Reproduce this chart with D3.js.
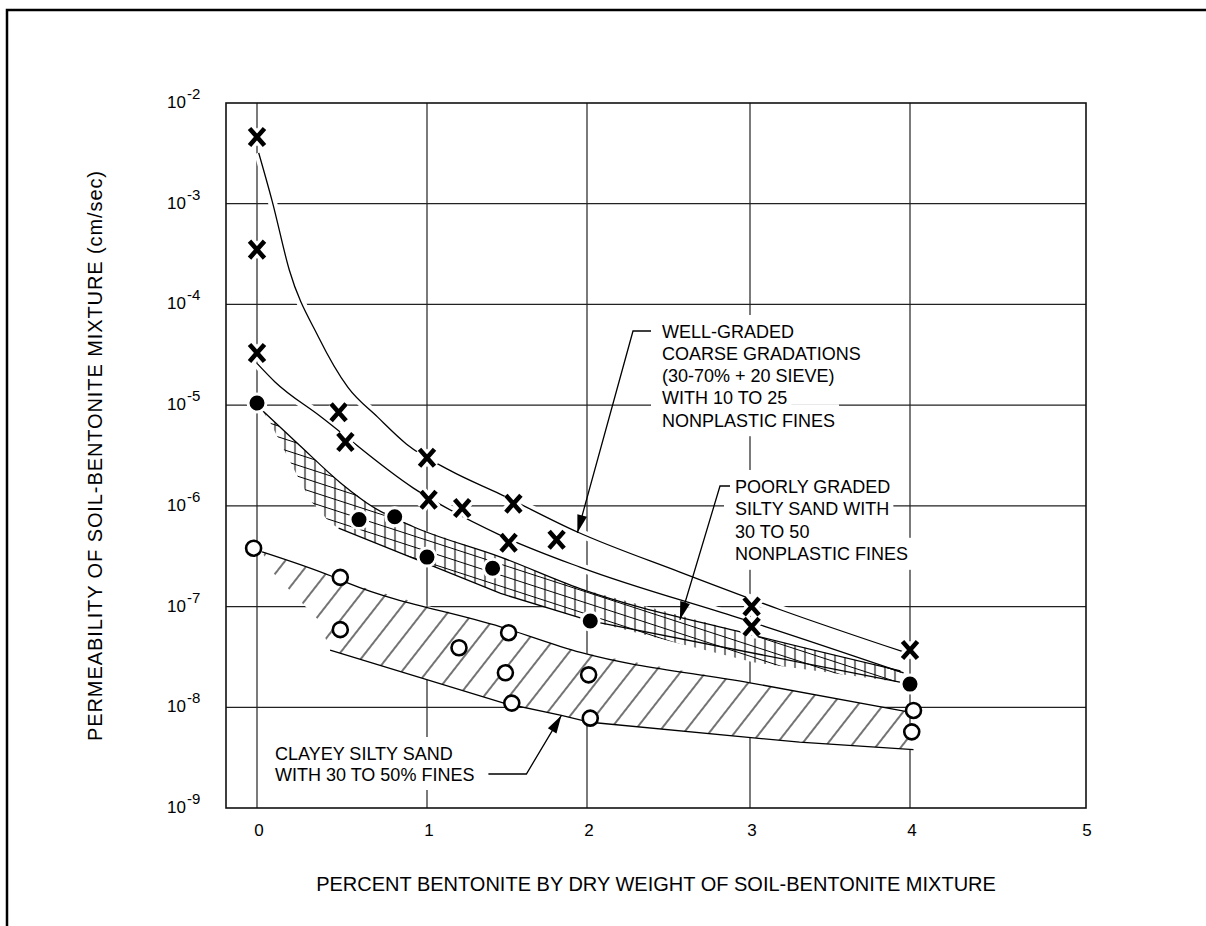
<!DOCTYPE html>
<html>
<head>
<meta charset="utf-8">
<script src="https://cdn.jsdelivr.net/npm/d3@7"></script>
<style>
  body { margin: 0; background: #fff; }
  text { font-family: "Liberation Sans", Arial, sans-serif; fill: #000; }
</style>
</head>
<body>
<svg id="chart" width="1206" height="926"></svg>
<script>
// axis ticks
const xTicks = [0, 1, 2, 3, 4, 5];
const yExponents = [-9, -8, -7, -6, -5, -4, -3, -2];

// test results: [percent bentonite, permeability cm/sec]
const wellGradedPts = [
  [0, 4.6e-3], [0, 3.5e-4], [0, 3.3e-5], [0.48, 8.5e-6], [0.52, 4.3e-6],
  [1.0, 3.0e-6], [1.01, 1.15e-6], [1.22, 9.5e-7], [1.54, 1.05e-6], [1.51, 4.3e-7],
  [1.81, 4.6e-7], [3.01, 1.0e-7], [3.01, 6.3e-8], [4.0, 3.7e-8]
];
const poorlyGradedPts = [
  [0, 1.05e-5], [0.6, 7.3e-7], [0.81, 7.8e-7], [1.0, 3.1e-7], [1.41, 2.4e-7],
  [2.02, 7.2e-8], [4.0, 1.7e-8]
];
const clayeyPts = [
  [-0.02, 3.8e-7], [0.49, 1.95e-7], [0.49, 5.9e-8], [1.2, 3.9e-8], [1.51, 5.5e-8],
  [1.49, 2.2e-8], [1.53, 1.1e-8], [2.01, 2.1e-8], [2.02, 7.8e-9], [4.02, 9.3e-9],
  [4.01, 5.7e-9]
];

// envelope curves
const wellUpper = [
  [0.01, 3.2e-3], [0.09, 1.05e-3], [0.19, 2.2e-4], [0.36, 4.8e-5], [0.535, 1.5e-5],
  [0.71, 7.6e-6], [0.88, 4.1e-6], [1.14, 2.26e-6], [1.46, 1.3e-6], [1.94, 5.5e-7],
  [2.57, 2.2e-7], [3.19, 9.3e-8], [3.97, 3.5e-8]
];
const wellLower = [
  [0, 2.6e-5], [0.106, 1.7e-5], [0.37, 7.8e-6], [0.92, 1.5e-6], [1.46, 5.1e-7],
  [1.96, 2.45e-7], [2.92, 7.8e-8], [3.1, 6.3e-8], [3.96, 2.2e-8]
];
const poorTop = [
  [0.03, 8.9e-6], [0.25, 4.0e-6], [0.49, 1.7e-6], [0.68, 9.8e-7], [0.92, 6.2e-7],
  [1.46, 3.1e-7], [1.96, 1.5e-7], [3.0, 5.3e-8], [3.94, 2.3e-8]
];
const poorBottom = [
  [0.08, 6.6e-6], [0.24, 1.95e-6], [0.32, 1.1e-6], [0.43, 6.8e-7], [0.48, 6.0e-7],
  [1.46, 1.35e-7], [2.02, 7.2e-8], [3.02, 2.8e-8], [3.96, 1.75e-8]
];
const poorBottomEdge = [[0.48, 6.0e-7], [1.46, 1.35e-7], [2.02, 7.2e-8], [3.96, 1.75e-8]];
const clayTop = [
  [0.03, 3.5e-7], [0.44, 2.0e-7], [0.54, 1.7e-7], [1.46, 6.3e-8], [1.96, 3.5e-8],
  [3.0, 1.75e-8], [3.97, 9.1e-9]
];
const clayBottom = [
  [0.43, 3.7e-8], [1.48, 1.1e-8], [1.84, 8.3e-9], [2.02, 7.1e-9], [3.31, 4.5e-9], [4.02, 3.8e-9]
];
const clayLeftEdge = [[0.36, 7.4e-8], [0.09, 2.2e-7]];

// callouts
const wellLabel = ['WELL-GRADED', 'COARSE GRADATIONS', '(30-70% + 20 SIEVE)', 'WITH 10 TO 25', 'NONPLASTIC FINES'];
const poorLabel = ['POORLY GRADED', 'SILTY SAND WITH', '30 TO 50', 'NONPLASTIC FINES'];
const clayLabel = ['CLAYEY SILTY SAND', 'WITH 30 TO 50% FINES'];

const svg = d3.select('#chart');

const x = d3.scaleLinear().domain(xTicks).range([257, 427, 587, 750, 910, 1085]);
const y = d3.scaleLog().domain([1e-9, 1e-2]).range([808, 103]);
const plotLeft = 226, plotRight = 1086, plotTop = y(1e-2), plotBottom = y(1e-9);

// hatch patterns
const defs = svg.append('defs');
defs.append('pattern')
  .attr('id', 'crosshatch')
  .attr('patternUnits', 'userSpaceOnUse')
  .attr('width', 10).attr('height', 11)
  .attr('patternTransform', 'skewY(18)')
  .append('path')
  .attr('d', 'M5,0V11M0,5.5H10')
  .attr('stroke', '#000').attr('stroke-width', 1.1);
defs.append('pattern')
  .attr('id', 'diagonal')
  .attr('patternUnits', 'userSpaceOnUse')
  .attr('width', 20).attr('height', 20)
  .attr('patternTransform', 'rotate(38)')
  .append('path')
  .attr('d', 'M10,0V20')
  .attr('stroke', '#000').attr('stroke-width', 1.1);

// outer sheet border
svg.append('path')
  .attr('d', 'M7,926V10H1206')
  .attr('fill', 'none').attr('stroke', '#000').attr('stroke-width', 2.5);

// grid
const grid = svg.append('g').attr('stroke', '#222').attr('stroke-width', 1.2);
grid.selectAll('.vgrid')
  .data(xTicks.filter(d => d < 5))
  .join('line')
  .attr('class', 'vgrid')
  .attr('x1', d => x(d)).attr('x2', d => x(d))
  .attr('y1', plotTop).attr('y2', plotBottom);
grid.selectAll('.hgrid')
  .data(yExponents.slice(1, -1))
  .join('line')
  .attr('class', 'hgrid')
  .attr('x1', plotLeft).attr('x2', plotRight)
  .attr('y1', d => y(Math.pow(10, d))).attr('y2', d => y(Math.pow(10, d)));

const smooth = d3.line().x(d => x(d[0])).y(d => y(d[1])).curve(d3.curveMonotoneX);
const straight = d3.line().x(d => x(d[0])).y(d => y(d[1]));

// white halos so that grid lines break at crossings
[wellUpper, wellLower].forEach(c => {
  svg.append('path').attr('d', smooth(c))
    .attr('fill', 'none').attr('stroke', '#fff').attr('stroke-width', 9);
});

// bands
const poorPoly = poorTop.concat(poorBottom.slice().reverse());
const clayPoly = clayTop.concat(clayBottom.slice().reverse(), clayLeftEdge);
[[poorPoly, 'crosshatch'], [clayPoly, 'diagonal']].forEach(([poly, pat]) => {
  svg.append('path').attr('d', straight(poly) + 'Z').attr('fill', '#fff');
  svg.append('path').attr('d', straight(poly) + 'Z').attr('fill', `url(#${pat})`);
});

// curves and band edges
const curves = svg.append('g').attr('fill', 'none').attr('stroke', '#000').attr('stroke-width', 1.3);
curves.append('path').attr('d', smooth(wellUpper));
curves.append('path').attr('d', smooth(wellLower));
curves.append('path').attr('d', smooth(poorTop));
curves.append('path').attr('d', straight(poorBottomEdge));
curves.append('path').attr('d', smooth(clayTop));
curves.append('path').attr('d', straight(clayBottom));

// markers
const xMark = 'M-7.5,-8.5L7.5,8.5M7.5,-8.5L-7.5,8.5';
const marks = svg.append('g');
marks.selectAll('.xhalo').data(wellGradedPts).join('path')
  .attr('class', 'xhalo')
  .attr('transform', d => `translate(${x(d[0])},${y(d[1])})`)
  .attr('d', xMark).attr('stroke', '#fff').attr('stroke-width', 11);
marks.selectAll('.xmark').data(wellGradedPts).join('path')
  .attr('class', 'xmark')
  .attr('transform', d => `translate(${x(d[0])},${y(d[1])})`)
  .attr('d', xMark).attr('stroke', '#000').attr('stroke-width', 4.6);
marks.selectAll('.fill').data(poorlyGradedPts).join('circle')
  .attr('class', 'fill')
  .attr('cx', d => x(d[0])).attr('cy', d => y(d[1]))
  .attr('r', 9).attr('fill', '#000').attr('stroke', '#fff').attr('stroke-width', 3);
marks.selectAll('.open').data(clayeyPts).join('circle')
  .attr('class', 'open')
  .attr('cx', d => x(d[0])).attr('cy', d => y(d[1]))
  .attr('r', 7.5).attr('fill', '#fff').attr('stroke', '#000').attr('stroke-width', 2.6);

// plot frame
svg.append('rect')
  .attr('x', plotLeft).attr('y', plotTop)
  .attr('width', plotRight - plotLeft).attr('height', plotBottom - plotTop)
  .attr('fill', 'none').attr('stroke', '#111').attr('stroke-width', 1.6);

// callouts
function callout(lines, opts) {
  const g = svg.append('g');
  const rows = lines.map((t, i) => ({ t, cy: opts.y + i * opts.dy }));
  const knock = g.append('g');
  const texts = g.selectAll('text').data(rows).join('text')
    .attr('x', opts.x).attr('y', d => d.cy + 6.5)
    .attr('font-size', 18)
    .text(d => d.t);
  texts.each(function (d) { d.w = this.getComputedTextLength(); });
  knock.selectAll('rect').data(rows).join('rect')
    .attr('x', opts.x - 11).attr('y', d => d.cy - 16)
    .attr('width', d => d.w + 15).attr('height', 32)
    .attr('fill', '#fff');

  let start, elbow;
  if (opts.side === 'left') {
    start = [opts.x - opts.gap, rows[0].cy];
    elbow = [start[0] - opts.run, rows[0].cy];
  } else {
    const last = rows[rows.length - 1];
    start = [opts.x + last.w + opts.gap, last.cy];
    elbow = [start[0] + opts.run, last.cy];
  }
  const tip = [x(opts.tip[0]), y(opts.tip[1])];
  g.append('path')
    .attr('d', d3.line()([start, elbow, tip]))
    .attr('fill', 'none').attr('stroke', '#000').attr('stroke-width', 1.3);
  const len = Math.hypot(tip[0] - elbow[0], tip[1] - elbow[1]);
  const ux = (tip[0] - elbow[0]) / len, uy = (tip[1] - elbow[1]) / len;
  const L = 18, W = 5;
  g.append('path')
    .attr('d', d3.line()([
      tip,
      [tip[0] - L * ux + W * uy, tip[1] - L * uy - W * ux],
      [tip[0] - L * ux - W * uy, tip[1] - L * uy + W * ux]
    ]) + 'Z')
    .attr('fill', '#000');
}

callout(wellLabel, { x: 662, y: 331, dy: 22.3, side: 'left', gap: 11, run: 18, tip: [1.94, 5.4e-7] });
callout(poorLabel, { x: 735, y: 486, dy: 22.6, side: 'left', gap: 5, run: 10, tip: [2.57, 7.4e-8] });
callout(clayLabel, { x: 275, y: 753, dy: 21, side: 'right', gap: 14, run: 38, tip: [1.84, 8.3e-9] });

// tick labels
svg.append('g').selectAll('text').data(xTicks).join('text')
  .attr('x', d => x(d) + 2).attr('y', 836)
  .attr('text-anchor', 'middle').attr('font-size', 17)
  .text(d => d);

const yl = svg.append('g').selectAll('g').data(yExponents).join('g')
  .attr('transform', d => `translate(0,${y(Math.pow(10, d))})`);
yl.append('text')
  .attr('x', 186).attr('y', 5)
  .attr('text-anchor', 'end').attr('font-size', 17)
  .text('10');
yl.append('text')
  .attr('x', 187).attr('y', -4)
  .attr('font-size', 15)
  .text(d => d);

// axis titles
svg.append('text')
  .attr('x', 656).attr('y', 891)
  .attr('text-anchor', 'middle').attr('font-size', 20)
  .text('PERCENT BENTONITE BY DRY WEIGHT OF SOIL-BENTONITE MIXTURE');
svg.append('text')
  .attr('transform', 'translate(102,456) rotate(-90)')
  .attr('text-anchor', 'middle').attr('font-size', 20)
  .attr('textLength', 570).attr('lengthAdjust', 'spacing')
  .text('PERMEABILITY OF SOIL-BENTONITE MIXTURE (cm/sec)');
</script>
</body>
</html>
